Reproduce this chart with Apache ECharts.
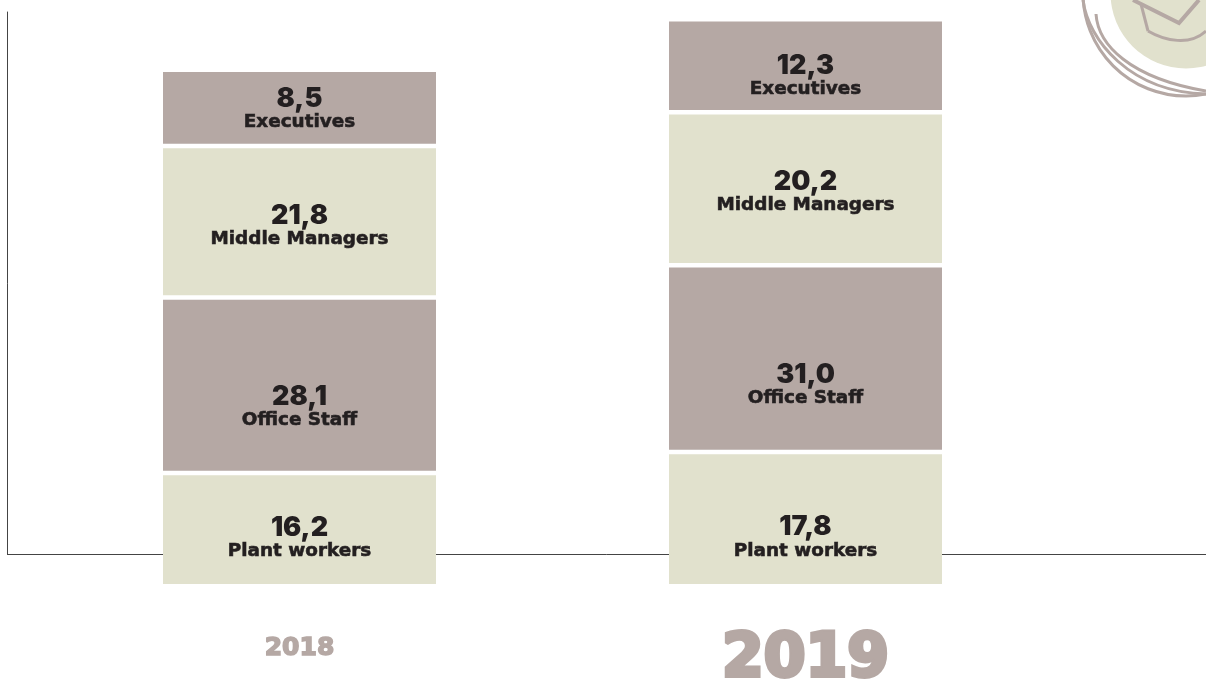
<!DOCTYPE html>
<html><head><meta charset="utf-8">
<style>html,body{margin:0;padding:0;background:#fff}#c{width:1206px;height:682px}</style>
<script src="https://cdn.jsdelivr.net/npm/echarts@6/dist/echarts.min.js"></script>
</head><body><div id="c"></div>
<script>
const years = ['2018', '2019'];
const segments = ['Plant workers', 'Office Staff', 'Middle Managers', 'Executives'];
// Printed figures
const printed2018 = ['16,2', '28,1', '21,8', '8,5'];
const printed2019 = ['17,8', '31,0', '20,2', '12,3'];
// Segment heights (they are not proportional to the printed figures)
const drawn2018 = [16.9, 26.2, 22.6, 11.4];
const drawn2019 = [20.05, 27.85, 22.85, 13.85];

const colors = ['#e1e1cd', '#b5a8a4', '#e1e1cd', '#b5a8a4'];
const ink = '#231f20';
const shift2018 = [10, 23, 6, 3];
const shift2019 = [20, 28, 5, 12];
const yMax = 85.7;

const series = segments.map((name, i) => ({
  name, type: 'bar', stack: 'total', xAxisIndex: 1, yAxisIndex: 1, barWidth: 277.5, z: 5,
  itemStyle: { color: colors[i], borderColor: 'rgba(255,255,255,0)', borderWidth: 4.5 },
  label: { show: true, position: 'inside', color: ink,
    formatter: p => '{v|' + (p.dataIndex === 0 ? printed2018 : printed2019)[i] + '}\n{n|' + name + '}',
    rich: {
      v: { fontFamily: 'Inter', fontWeight: 900, fontSize: 27, lineHeight: 23.5, color: ink, align: 'center' },
      n: { fontFamily: 'DejaVu Sans', fontWeight: 700, fontSize: 18.4, lineHeight: 23.5, color: ink, align: 'center', textBorderColor: ink, textBorderWidth: 0.6 }
    } },
  data: [
    { value: drawn2018[i], label: { offset: [0, shift2018[i]] } },
    { value: drawn2019[i], label: { offset: [0, shift2019[i]] } }
  ]
}));

const ringColor = '#b5a8a4';
const stroke = w => ({ fill: 'none', stroke: ringColor, lineWidth: w });
const logo = [
  { type: 'circle', shape: { cx: 1186, cy: -7, r: 75.5 }, style: { fill: '#e1e1cd' } },
  { type: 'circle', shape: { cx: 1186, cy: -7, r: 103 }, style: stroke(3) },
  { type: 'bezierCurve', shape: { x1: 1096, y1: 14, cpx1: 1098, cpy1: 45, cpx2: 1130, cpy2: 78, x2: 1206, y2: 91 }, style: stroke(3) },
  { type: 'bezierCurve', shape: { x1: 1083, y1: 0, cpx1: 1088, cpy1: 40, cpx2: 1130, cpy2: 92, x2: 1206, y2: 94 }, style: stroke(3) },
  { type: 'polyline', shape: { points: [[1133, 0], [1179, 23], [1199, 0]] }, style: stroke(4) },
  { type: 'line', shape: { x1: 1141, y1: 4, x2: 1148, y2: 31 }, style: stroke(3) },
  { type: 'bezierCurve', shape: { x1: 1148, y1: 31, cpx1: 1165, cpy1: 41, cpx2: 1190, cpy2: 46, x2: 1206, y2: 31 }, style: stroke(3) }
];

const chart = echarts.init(document.getElementById('c'), null, { renderer: 'canvas' });
chart.setOption({
  animation: false,
  backgroundColor: '#fff',
  grid: [
    { left: 7.5, right: 0, top: 12, height: 542.5, outerBoundsMode: 'none' },
    { left: 46.5, width: 1012, top: 12, height: 574.25, outerBoundsMode: 'none' }
  ],
  xAxis: [
    { type: 'category', gridIndex: 0, data: [''], axisTick: { show: false }, axisLabel: { show: false },
      axisLine: { lineStyle: { color: '#444', width: 1 } } },
    { type: 'category', gridIndex: 1, data: years, axisTick: { show: false }, axisLine: { show: false },
      axisLabel: { margin: 62, verticalAlign: 'middle', formatter: (v, i) => i === 0 ? '{a|' + v + '}' : '{b|' + v + '}',
        rich: {
          a: { fontFamily: 'DejaVu Sans', fontWeight: 700, fontSize: 25, color: ringColor, textBorderColor: ringColor, textBorderWidth: 1.5 },
          b: { fontFamily: 'DejaVu Sans', fontWeight: 700, fontSize: 60, color: ringColor, textBorderColor: ringColor, textBorderWidth: 4, padding: [24, 0, 0, 0] }
        } } }
  ],
  yAxis: [
    { type: 'value', gridIndex: 0, min: 0, max: 1, splitLine: { show: false }, axisTick: { show: false }, axisLabel: { show: false },
      axisLine: { show: true, lineStyle: { color: '#444', width: 1 } } },
    { type: 'value', gridIndex: 1, min: 0, max: yMax, splitLine: { show: false }, axisTick: { show: false }, axisLabel: { show: false }, axisLine: { show: false } }
  ],
  series: series,
  graphic: logo
});
</script></body></html>
